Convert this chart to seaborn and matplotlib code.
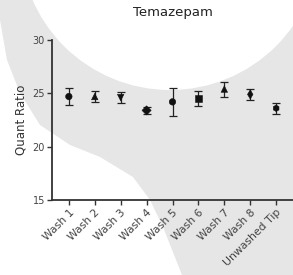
import matplotlib
matplotlib.use("Agg")
import matplotlib.pyplot as plt
from matplotlib.patches import Polygon, Circle
import pandas as pd
import seaborn as sb

categories = ["Wash 1", "Wash 2", "Wash 3", "Wash 4", "Wash 5",
              "Wash 6", "Wash 7", "Wash 8", "Unwashed Tip"]
means = [24.7, 24.7, 24.6, 23.4, 24.2, 24.5, 25.4, 24.9, 23.6]
errors = [0.8, 0.5, 0.55, 0.35, 1.3, 0.7, 0.7, 0.55, 0.5]
marker_shapes = ["o", "^", "v", "D", "o", "s", "^", "d", "h"]

df = pd.DataFrame({"wash": categories, "ratio": means, "err": errors})

sb.set_style("white")
plt.rcParams["font.family"] = ["DejaVu Sans"]

W, H = 293, 275
fig = plt.figure(figsize=(W / 100, H / 100), dpi=100)
fig.patch.set_facecolor("white")


def px(pts):
    return [(x / 100, (H - y) / 100) for x, y in pts]


# grey watermark band behind the chart
edge = [(182, 275), (163, 227), (150, 200), (133, 177), (100, 157), (70, 145),
        (40, 125), (20, 93), (7, 60), (0, 20)]
band = Polygon(px([(0, 0), (W, 0), (W, H)] + edge), closed=True,
               facecolor="#e6e6e6", edgecolor="none",
               transform=fig.dpi_scale_trans, zorder=-2)
fig.patches.append(band)
hole = Circle((170 / 100, (H + 60) / 100), 150 / 100, facecolor="white",
              edgecolor="none", transform=fig.dpi_scale_trans, zorder=-1)
fig.patches.append(hole)

ax = fig.add_axes([52 / W, 1 - 200 / H, 1 - 52 / W, 160 / H])
ax.set_facecolor("none")
ax.set_zorder(1)

ax.errorbar(df["wash"], df["ratio"], yerr=df["err"], fmt="none",
            ecolor="#222222", elinewidth=0.9, capsize=3, capthick=0.9, zorder=2)
sb.scatterplot(data=df, x="wash", y="ratio", style="wash",
               markers=marker_shapes, color="#111111", s=22,
               edgecolor="#111111", legend=False, ax=ax, zorder=3)

ax.set_xlim(-0.65, 8.65)
ax.set_ylim(15, 30)
ax.set_yticks([15, 20, 25, 30])
ax.set_xlabel("")
ax.set_ylabel("Quant Ratio", fontsize=8.5, color="#333333", labelpad=4)
ax.set_title("Temazepam", fontsize=9.5, color="#222222", pad=17)

for side in ["top", "right"]:
    ax.spines[side].set_visible(False)
for side in ["left", "bottom"]:
    ax.spines[side].set_color("#333333")
    ax.spines[side].set_linewidth(1.3)

ax.tick_params(axis="both", direction="out", length=3.5, width=1,
               color="#333333", labelcolor="#444444", pad=1.5,
               left=True, bottom=True)
ax.tick_params(axis="y", labelsize=7)
ax.tick_params(axis="x", labelsize=7.8)
plt.setp(ax.get_xticklabels(), rotation=45, ha="right", rotation_mode="anchor")

fig.savefig("out.png", dpi=100, facecolor=fig.get_facecolor())
